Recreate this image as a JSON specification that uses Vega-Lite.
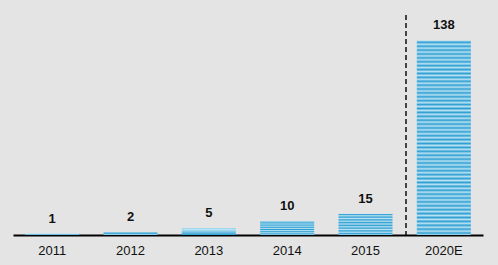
{
  "$schema": "https://vega.github.io/schema/vega-lite/v6.json",
  "width": 470,
  "height": 220,
  "autosize": {"type": "none"},
  "padding": {"left": 13, "top": 15, "right": 15, "bottom": 30},
  "background": "#e4e4e4",
  "config": {
    "view": {"stroke": null},
    "font": "Liberation Sans"
  },
  "data": {
    "values": [
      {"year": "2011", "value": 1},
      {"year": "2012", "value": 2},
      {"year": "2013", "value": 5},
      {"year": "2014", "value": 10},
      {"year": "2015", "value": 15},
      {"year": "2020E", "value": 138}
    ]
  },
  "encoding": {
    "x": {
      "field": "year",
      "type": "nominal",
      "sort": null,
      "scale": {"paddingInner": 0.31, "paddingOuter": 0.155},
      "axis": {
        "title": null,
        "labelAngle": 0,
        "labelFontSize": 13,
        "labelColor": "#111111",
        "labelPadding": 9,
        "ticks": false,
        "domainColor": "#000000",
        "domainWidth": 2,
        "grid": false
      }
    }
  },
  "layer": [
    {
      "mark": {
        "type": "bar",
        "fill": {
          "gradient": "linear",
          "x1": 0, "y1": 0, "x2": 0, "y2": 1,
          "stops": [
            {"offset": 0.00, "color": "#b8e2f3"}, {"offset": 0.01, "color": "#2f9fd2"},
            {"offset": 0.02, "color": "#b8e2f3"}, {"offset": 0.03, "color": "#2f9fd2"},
            {"offset": 0.04, "color": "#b8e2f3"}, {"offset": 0.05, "color": "#2f9fd2"},
            {"offset": 0.06, "color": "#b8e2f3"}, {"offset": 0.07, "color": "#2f9fd2"},
            {"offset": 0.08, "color": "#b8e2f3"}, {"offset": 0.09, "color": "#2f9fd2"},
            {"offset": 0.10, "color": "#b8e2f3"}, {"offset": 0.11, "color": "#2f9fd2"},
            {"offset": 0.12, "color": "#b8e2f3"}, {"offset": 0.13, "color": "#2f9fd2"},
            {"offset": 0.14, "color": "#b8e2f3"}, {"offset": 0.15, "color": "#2f9fd2"},
            {"offset": 0.16, "color": "#b8e2f3"}, {"offset": 0.17, "color": "#2f9fd2"},
            {"offset": 0.18, "color": "#b8e2f3"}, {"offset": 0.19, "color": "#2f9fd2"},
            {"offset": 0.20, "color": "#b8e2f3"}, {"offset": 0.21, "color": "#2f9fd2"},
            {"offset": 0.22, "color": "#b8e2f3"}, {"offset": 0.23, "color": "#2f9fd2"},
            {"offset": 0.24, "color": "#b8e2f3"}, {"offset": 0.25, "color": "#2f9fd2"},
            {"offset": 0.26, "color": "#b8e2f3"}, {"offset": 0.27, "color": "#2f9fd2"},
            {"offset": 0.28, "color": "#b8e2f3"}, {"offset": 0.29, "color": "#2f9fd2"},
            {"offset": 0.30, "color": "#b8e2f3"}, {"offset": 0.31, "color": "#2f9fd2"},
            {"offset": 0.32, "color": "#b8e2f3"}, {"offset": 0.33, "color": "#2f9fd2"},
            {"offset": 0.34, "color": "#b8e2f3"}, {"offset": 0.35, "color": "#2f9fd2"},
            {"offset": 0.36, "color": "#b8e2f3"}, {"offset": 0.37, "color": "#2f9fd2"},
            {"offset": 0.38, "color": "#b8e2f3"}, {"offset": 0.39, "color": "#2f9fd2"},
            {"offset": 0.40, "color": "#b8e2f3"}, {"offset": 0.41, "color": "#2f9fd2"},
            {"offset": 0.42, "color": "#b8e2f3"}, {"offset": 0.43, "color": "#2f9fd2"},
            {"offset": 0.44, "color": "#b8e2f3"}, {"offset": 0.45, "color": "#2f9fd2"},
            {"offset": 0.46, "color": "#b8e2f3"}, {"offset": 0.47, "color": "#2f9fd2"},
            {"offset": 0.48, "color": "#b8e2f3"}, {"offset": 0.49, "color": "#2f9fd2"},
            {"offset": 0.50, "color": "#b8e2f3"}, {"offset": 0.51, "color": "#2f9fd2"},
            {"offset": 0.52, "color": "#b8e2f3"}, {"offset": 0.53, "color": "#2f9fd2"},
            {"offset": 0.54, "color": "#b8e2f3"}, {"offset": 0.55, "color": "#2f9fd2"},
            {"offset": 0.56, "color": "#b8e2f3"}, {"offset": 0.57, "color": "#2f9fd2"},
            {"offset": 0.58, "color": "#b8e2f3"}, {"offset": 0.59, "color": "#2f9fd2"},
            {"offset": 0.60, "color": "#b8e2f3"}, {"offset": 0.61, "color": "#2f9fd2"},
            {"offset": 0.62, "color": "#b8e2f3"}, {"offset": 0.63, "color": "#2f9fd2"},
            {"offset": 0.64, "color": "#b8e2f3"}, {"offset": 0.65, "color": "#2f9fd2"},
            {"offset": 0.66, "color": "#b8e2f3"}, {"offset": 0.67, "color": "#2f9fd2"},
            {"offset": 0.68, "color": "#b8e2f3"}, {"offset": 0.69, "color": "#2f9fd2"},
            {"offset": 0.70, "color": "#b8e2f3"}, {"offset": 0.71, "color": "#2f9fd2"},
            {"offset": 0.72, "color": "#b8e2f3"}, {"offset": 0.73, "color": "#2f9fd2"},
            {"offset": 0.74, "color": "#b8e2f3"}, {"offset": 0.75, "color": "#2f9fd2"},
            {"offset": 0.76, "color": "#b8e2f3"}, {"offset": 0.77, "color": "#2f9fd2"},
            {"offset": 0.78, "color": "#b8e2f3"}, {"offset": 0.79, "color": "#2f9fd2"},
            {"offset": 0.80, "color": "#b8e2f3"}, {"offset": 0.81, "color": "#2f9fd2"},
            {"offset": 0.82, "color": "#b8e2f3"}, {"offset": 0.83, "color": "#2f9fd2"},
            {"offset": 0.84, "color": "#b8e2f3"}, {"offset": 0.85, "color": "#2f9fd2"},
            {"offset": 0.86, "color": "#b8e2f3"}, {"offset": 0.87, "color": "#2f9fd2"},
            {"offset": 0.88, "color": "#b8e2f3"}, {"offset": 0.89, "color": "#2f9fd2"},
            {"offset": 0.90, "color": "#b8e2f3"}, {"offset": 0.91, "color": "#2f9fd2"},
            {"offset": 0.92, "color": "#b8e2f3"}, {"offset": 0.93, "color": "#2f9fd2"},
            {"offset": 0.94, "color": "#b8e2f3"}, {"offset": 0.95, "color": "#2f9fd2"},
            {"offset": 0.96, "color": "#b8e2f3"}, {"offset": 0.97, "color": "#2f9fd2"},
            {"offset": 0.98, "color": "#b8e2f3"}, {"offset": 0.99, "color": "#2f9fd2"},
            {"offset": 1.00, "color": "#b8e2f3"}
          ]
        }
      },
      "encoding": {
        "y": {
          "field": "value",
          "type": "quantitative",
          "scale": {"domain": [0, 156], "nice": false},
          "axis": null
        }
      }
    },
    {
      "mark": {
        "type": "text",
        "baseline": "bottom",
        "dy": -8,
        "fontSize": 13,
        "fontWeight": "bold",
        "color": "#111111"
      },
      "encoding": {
        "y": {"field": "value", "type": "quantitative"},
        "text": {"field": "value", "type": "quantitative"}
      }
    },
    {
      "data": {"values": [{"year": "2020E"}]},
      "mark": {
        "type": "rule",
        "color": "#111111",
        "strokeWidth": 1.5,
        "strokeDash": [5, 3]
      },
      "encoding": {
        "x": {"field": "year", "type": "nominal", "bandPosition": -0.2}
      }
    }
  ]
}
